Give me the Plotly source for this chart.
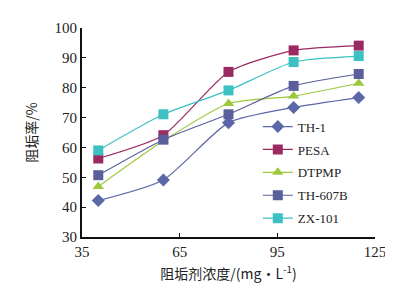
import plotly.graph_objects as go

x_conc = [40, 60, 80, 100, 120]
names = ["TH-1", "PESA", "DTPMP", "TH-607B", "ZX-101"]
th1 = [42.2, 49.1, 68.3, 73.4, 76.7]
pesa = [56.3, 64.1, 85.3, 92.5, 94.1]
dtpmp = [46.9, 62.2, 74.7, 77.2, 81.5]
th607b = [50.7, 62.6, 71.1, 80.6, 84.6]
zx101 = [59.0, 71.1, 79.1, 88.6, 90.6]

series = [th1, pesa, dtpmp, th607b, zx101]
colors = ["#5B67A6", "#9C2A62", "#9CC93C", "#5A5F9C", "#3CC0C2"]
symbols = ["diamond", "square", "triangle-up", "square", "square"]
sizes = [10, 10, 10, 10, 10]

fig = go.Figure()
for n, y, c, s, sz in zip(names, series, colors, symbols, sizes):
    fig.add_trace(go.Scatter(
        x=x_conc, y=y, name=n, mode="lines+markers", legendgroup=n,
        line=dict(color=c, width=1.2, shape="spline", smoothing=0.6),
        marker=dict(symbol=s, size=sz, color=c),
    ))

font_serif = "Liberation Serif, Times New Roman, serif"
fig.update_layout(
    width=393, height=292,
    margin=dict(l=74, r=26, t=16, b=63),
    paper_bgcolor="white", plot_bgcolor="white",
    font=dict(family=font_serif, size=13, color="#222"),
    showlegend=True,
    legend=dict(x=0.6, y=0.6, xanchor="left", yanchor="top",
                bgcolor="rgba(0,0,0,0)", font=dict(size=13, family=font_serif),
                tracegroupgap=3, itemwidth=30),
    xaxis=dict(range=[35, 125], tick0=35, dtick=30, showgrid=False, zeroline=False,
               showline=True, linecolor="#111", linewidth=2,
               ticks="inside", ticklen=4, tickcolor="#111",
               tickfont=dict(size=15, family=font_serif),
               title=dict(text="阻垢剂浓度/(mg·L<sup>-1</sup>)", standoff=10,
                          font=dict(size=14, family="Noto Sans CJK SC"))),
    yaxis=dict(range=[30, 100], tick0=30, dtick=10, showgrid=False, zeroline=False,
               showline=True, linecolor="#111", linewidth=2,
               ticks="inside", ticklen=4, tickcolor="#111",
               tickfont=dict(size=15, family=font_serif),
               title=dict(text="阻垢率/%", standoff=14,
                          font=dict(size=14, family="Noto Sans CJK SC"))),
)
fig.write_html("out.html")
